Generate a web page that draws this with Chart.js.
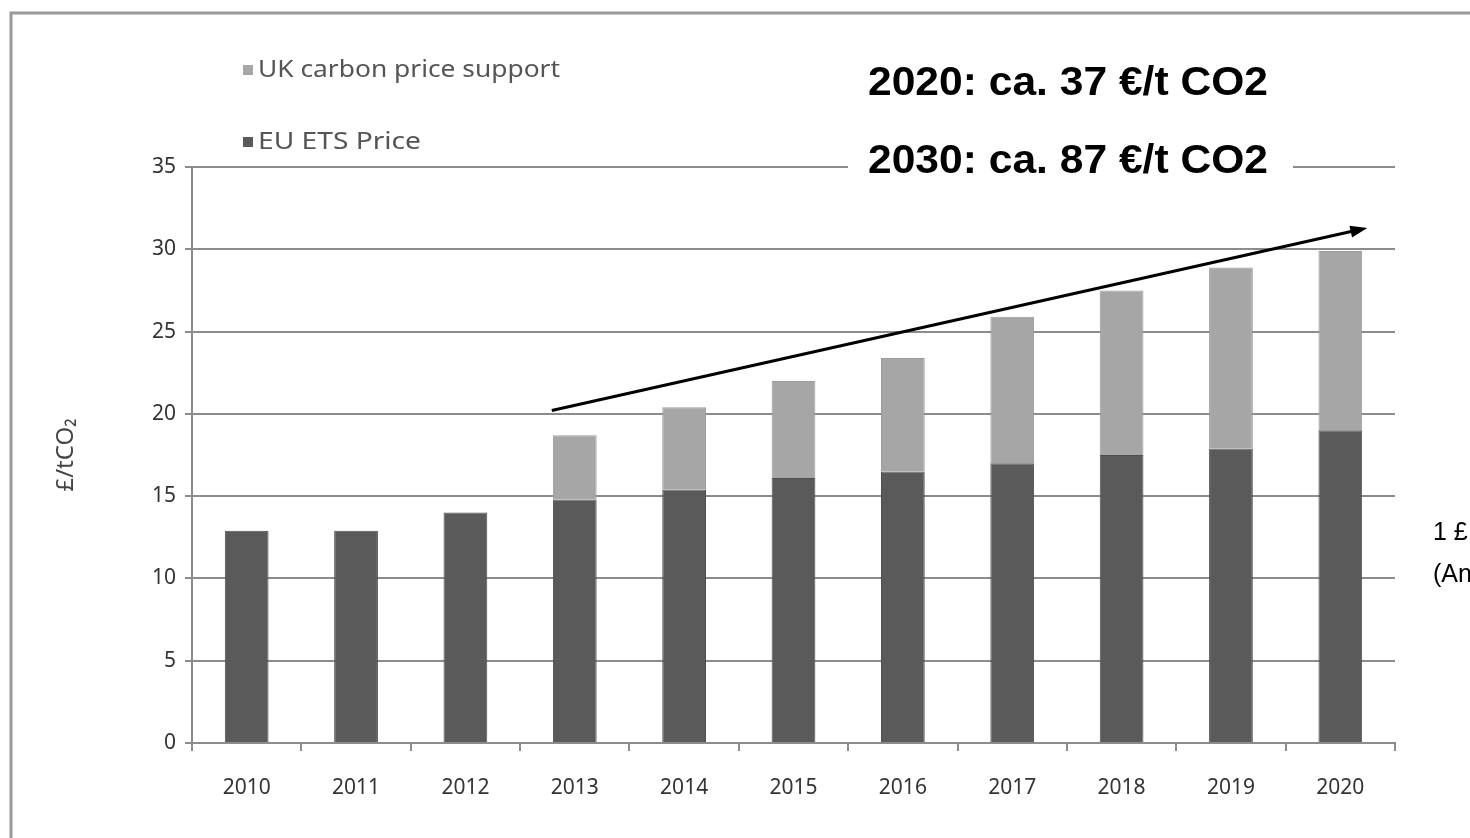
<!DOCTYPE html>
<html>
<head>
<meta charset="utf-8">
<script src="https://cdn.jsdelivr.net/npm/chart.js@4"></script>
<style>
  html, body { margin: 0; padding: 0; background: #fff; }
  #wrap { width: 1470px; height: 838px; }
</style>
</head>
<body>
<div id="wrap"><canvas id="carbonChart" width="1470" height="838"></canvas></div>
<script>
// ===== DATA =====
const years = ['2010', '2011', '2012', '2013', '2014', '2015', '2016', '2017', '2018', '2019', '2020'];
const euEtsPrice = [12.9, 12.9, 14.0, 14.8, 15.4, 16.1, 16.5, 17.0, 17.5, 17.9, 19.0];
const ukSupport = [0, 0, 0, 3.9, 5.0, 5.9, 6.9, 8.9, 10.0, 11.0, 10.9];
const yTicks = [0, 5, 10, 15, 20, 25, 30, 35];
const notes = ['2020: ca. 37 €/t CO2', '2030: ca. 87 €/t CO2'];
const sideNotes = ['1 £ = 1,17 €', '(Annahme)'];

const darkGrey = '#5a5a5a';
const lightGrey = '#a6a6a6';
const gridGrey = '#8c8c8c';

// draw text squeezed/stretched to a given width
function wideText(ctx, text, x, y, width) {
    const w = ctx.measureText(text).width;
    ctx.save();
    ctx.translate(x, y);
    ctx.scale(width / w, 1);
    ctx.fillText(text, 0, 0);
    ctx.restore();
}

// frame, legend, notes and trend arrow
const decorations = {
    id: 'decorations',
    beforeDraw(chart) {
        const ctx = chart.ctx;
        ctx.save();
        ctx.fillStyle = '#fff';
        ctx.fillRect(0, 0, chart.width, chart.height);
        ctx.strokeStyle = '#9a9a9a';
        ctx.lineWidth = 3;
        ctx.beginPath();
        ctx.moveTo(11, chart.height);
        ctx.lineTo(11, 13);
        ctx.lineTo(chart.width, 13);
        ctx.stroke();
        ctx.restore();
    },
    afterDraw(chart) {
        const ctx = chart.ctx;
        const x = chart.scales.x;
        const y = chart.scales.y;
        ctx.save();

        // legend (top left)
        const items = [
            { label: chart.data.datasets[1].label, color: lightGrey, cy: 70, w: 302 },
            { label: chart.data.datasets[0].label, color: darkGrey, cy: 142, w: 163 }
        ];
        ctx.font = '23px "Noto Sans"';
        ctx.textBaseline = 'middle';
        items.forEach(it => {
            ctx.fillStyle = it.color;
            ctx.fillRect(243, it.cy - 5, 10, 10);
            ctx.fillStyle = '#555';
            wideText(ctx, it.label, 258, it.cy, it.w);
        });

        // trend arrow
        const x0 = x.getPixelForValue(3) - 23, y0 = y.getPixelForValue(20.2);
        const x1 = x.getPixelForValue(10) + 27, y1 = y.getPixelForValue(31.3);
        const ang = Math.atan2(y1 - y0, x1 - x0);
        ctx.strokeStyle = '#000';
        ctx.fillStyle = '#000';
        ctx.lineWidth = 3;
        ctx.beginPath();
        ctx.moveTo(x0, y0);
        ctx.lineTo(x1 - 12 * Math.cos(ang), y1 - 12 * Math.sin(ang));
        ctx.stroke();
        ctx.beginPath();
        ctx.moveTo(x1, y1);
        ctx.lineTo(x1 - 17 * Math.cos(ang) + 6 * Math.sin(ang), y1 - 17 * Math.sin(ang) - 6 * Math.cos(ang));
        ctx.lineTo(x1 - 17 * Math.cos(ang) - 6 * Math.sin(ang), y1 - 17 * Math.sin(ang) + 6 * Math.cos(ang));
        ctx.closePath();
        ctx.fill();

        // bold notes
        ctx.fillStyle = '#fff';
        ctx.fillRect(848, 138, 445, 52);
        ctx.fillStyle = '#000';
        ctx.font = 'bold 40px "Liberation Sans", Arial';
        ctx.textBaseline = 'alphabetic';
        wideText(ctx, notes[0], 868, 95, 400);
        wideText(ctx, notes[1], 868, 173, 400);

        // side notes, cut by the right edge
        ctx.font = '25px "Liberation Sans", Arial';
        ctx.fillText(sideNotes[0], 1433, 540);
        ctx.fillText(sideNotes[1], 1433, 582);
        ctx.restore();
    }
};

const ctx = document.getElementById('carbonChart').getContext('2d');
new Chart(ctx, {
    type: 'bar',
    data: {
        labels: years,
        datasets: [
            {
                label: 'EU ETS Price',
                data: euEtsPrice,
                backgroundColor: darkGrey,
                borderColor: '#4e4e4e',
                borderWidth: 1,
                categoryPercentage: 1,
                barPercentage: 0.4
            },
            {
                label: 'UK carbon price support',
                data: ukSupport,
                backgroundColor: lightGrey,
                borderColor: '#9c9c9c',
                borderWidth: 1,
                categoryPercentage: 1,
                barPercentage: 0.4
            }
        ]
    },
    options: {
        responsive: false,
        animation: false,
        layout: { padding: { left: 0, top: 167, right: 75, bottom: 35 } },
        plugins: {
            legend: { display: false },
            tooltip: { enabled: false }
        },
        scales: {
            x: {
                stacked: true,
                afterFit: s => { s.height = 60; },
                grid: {
                    offset: true,
                    drawOnChartArea: false,
                    drawTicks: true,
                    tickLength: 8,
                    color: gridGrey,
                    lineWidth: 2
                },
                border: { color: gridGrey, width: 2 },
                ticks: {
                    color: '#333',
                    padding: 24,
                    font: { family: '"Noto Sans"', size: 21 }
                }
            },
            y: {
                stacked: true,
                min: 0,
                max: 35,
                afterFit: s => { s.width = 192; },
                afterBuildTicks: s => { s.ticks = yTicks.map(v => ({ value: v })); },
                grid: {
                    color: gridGrey,
                    lineWidth: 2,
                    tickLength: 7
                },
                border: { color: gridGrey, width: 2 },
                ticks: {
                    color: '#333',
                    padding: 9,
                    font: { family: '"Noto Sans"', size: 21 }
                },
                title: {
                    display: true,
                    text: '£/tCO₂',
                    color: '#444',
                    font: { family: '"Noto Sans"', size: 24 },
                    padding: { top: 52, bottom: 0 }
                }
            }
        }
    },
    plugins: [decorations]
});
</script>
</body>
</html>
